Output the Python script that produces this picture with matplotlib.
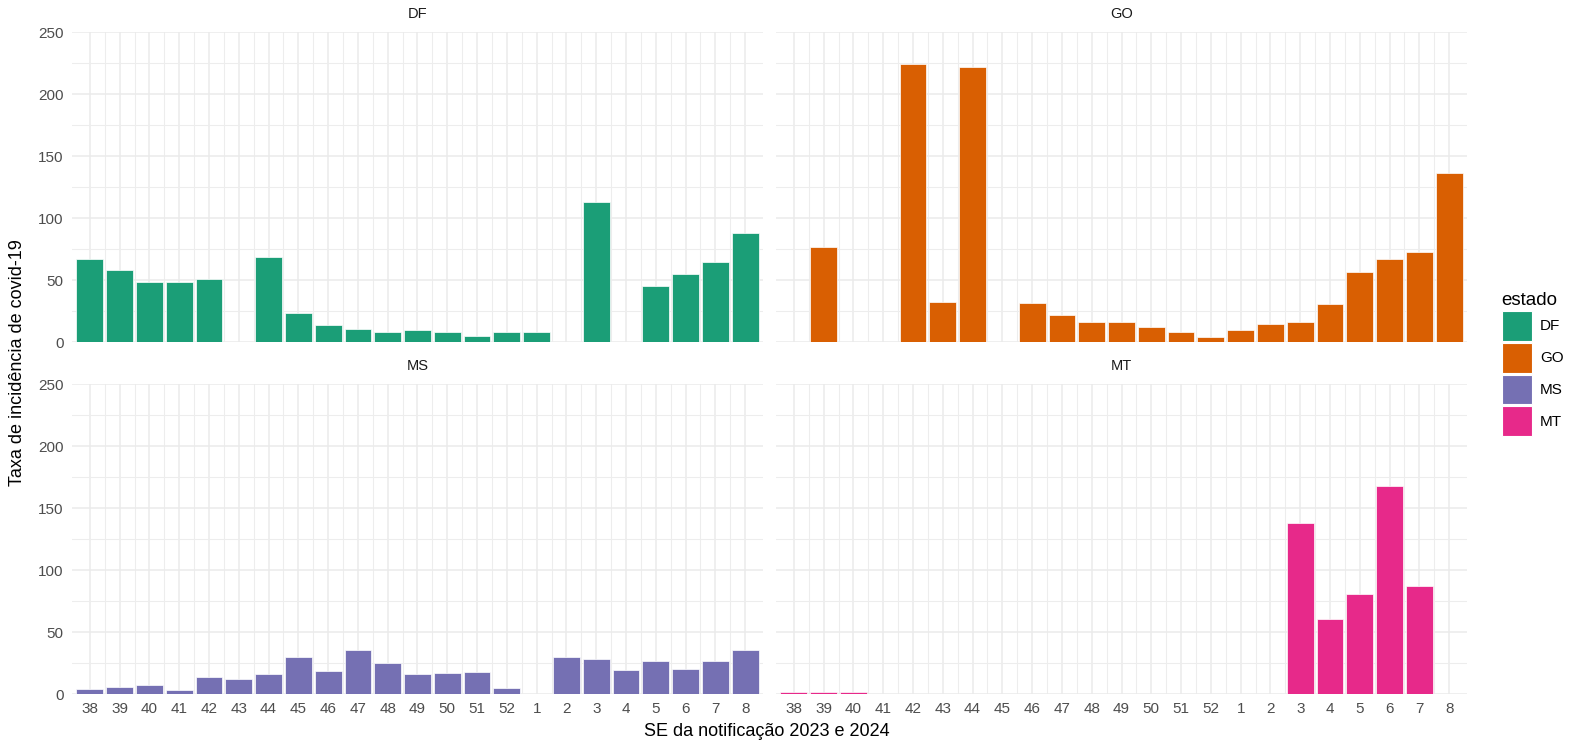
import numpy as np
import matplotlib
matplotlib.use("Agg")
import matplotlib.pyplot as plt
from matplotlib.patches import Patch

plt.rcParams['font.family'] = ['Liberation Sans', 'DejaVu Sans']

# epidemiological weeks, end of 2023 into 2024
semanas = ['38', '39', '40', '41', '42', '43', '44', '45', '46', '47', '48', '49',
           '50', '51', '52', '1', '2', '3', '4', '5', '6', '7', '8']

estados = ['DF', 'GO', 'MS', 'MT']
cores = ['#1B9E77', '#D95F02', '#7570B3', '#E7298A']

# incidence rate per state (nan = no notification that week)
nan = np.nan
taxa_df = [66.8, 57.9, 48.2, 48.0, 51.2, nan, 68.2, 23.4, 13.7, 10.8, 8.4, 10.0,
           8.1, 4.6, 8.4, 8.4, nan, 113.1, nan, 45.3, 55.2, 64.9, 88.1]
taxa_go = [nan, 76.5, nan, nan, 224.1, 32.6, 222.0, nan, 31.8, 21.6, 15.9, 15.9,
           12.4, 8.4, 4.3, 10.0, 14.3, 16.4, 30.4, 56.6, 67.3, 72.7, 136.6]
taxa_ms = [4.0, 5.9, 7.3, 3.0, 13.5, 11.8, 16.1, 29.9, 18.8, 35.8, 24.8, 15.9,
           16.7, 17.5, 5.1, nan, 30.1, 28.0, 19.6, 26.6, 20.5, 26.4, 35.8]
taxa_mt = [1.3, 1.9, 1.3, nan, nan, nan, nan, nan, nan, nan, nan, nan,
           nan, nan, nan, nan, nan, 138.3, 60.3, 80.7, 167.4, 86.9, nan]

taxas = [taxa_df, taxa_go, taxa_ms, taxa_mt]

W, H = 1569, 744
fig = plt.figure(figsize=(W / 100, H / 100), dpi=100)

# panel boxes in pixels: (left, top, right, bottom)
caixas = [(72, 32, 763, 342), (776, 32, 1467, 342),
          (72, 384, 763, 694), (776, 384, 1467, 694)]

x = np.arange(len(semanas))
for i, (estado, cor, taxa) in enumerate(zip(estados, cores, taxas)):
    l, t, r, b = caixas[i]
    ax = fig.add_axes([l / W, (H - b) / H, (r - l) / W, (b - t) / H])
    ax.set_xlim(-0.6, len(semanas) - 0.4)
    ax.set_ylim(0, 250)
    # grid: category lines plus in-between lines, y breaks every 50 and 25
    for xv in x:
        ax.axvline(xv, color='#EBEBEB', lw=1.1, zorder=0)
    for xv in x[:-1] + 0.5:
        ax.axvline(xv, color='#EDEDED', lw=0.8, zorder=0)
    for yv in range(0, 251, 50):
        ax.axhline(yv, color='#EBEBEB', lw=1.1, zorder=0)
    for yv in range(25, 250, 50):
        ax.axhline(yv, color='#EDEDED', lw=0.8, zorder=0)
    vals = np.array(taxa, dtype=float)
    ok = ~np.isnan(vals)
    ax.bar(x[ok], vals[ok], width=0.9, color=cor, edgecolor='white',
           linewidth=0.5, zorder=2)
    for s in ax.spines.values():
        s.set_visible(False)
    ax.set_yticks(range(0, 251, 50))
    ax.set_xticks(x)
    ax.tick_params(length=0, labelsize=11, labelcolor='#4D4D4D', pad=6)
    if i < 2:
        ax.set_xticklabels([])
    else:
        ax.set_xticklabels(semanas)
    if i % 2 == 1:
        ax.set_yticklabels([])
    ax.text(0.5, 1 + 18 / 310, estado, transform=ax.transAxes, ha='center',
            va='center', fontsize=10.5, color='#1A1A1A')

fig.text(767 / W, 1 - 732 / H, 'SE da notificação 2023 e 2024', ha='center',
         va='center', fontsize=13)
fig.text(18 / W, 1 - 363 / H, 'Taxa de incidência de covid-19', ha='center',
         va='center', rotation=90, fontsize=13)

handles = [Patch(facecolor=c, edgecolor='white', linewidth=0.8) for c in cores]
leg = fig.legend(handles, estados, loc='upper left',
                 bbox_to_anchor=(1494 / W, 1 - 284 / H), frameon=False,
                 borderpad=0, title='estado', title_fontsize=13.5, fontsize=11,
                 handlelength=1.96, handleheight=2.64, labelspacing=0.13,
                 handletextpad=0.55, alignment='left')

fig.savefig('out.png', dpi=100, facecolor='white')
